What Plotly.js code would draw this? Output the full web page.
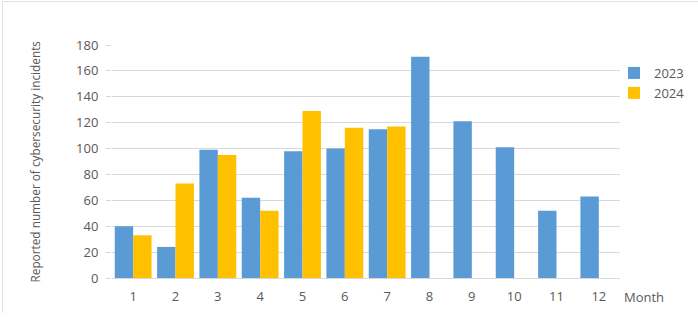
<!DOCTYPE html>
<html>
<head>
<meta charset="utf-8">
<script src="https://cdn.plot.ly/plotly-3.0.1.min.js"></script>
<style>
html,body{margin:0;padding:0;background:#fff;}
#frame{position:absolute;left:2px;top:1px;width:696px;height:311px;border-left:1px solid #e3e3e3;border-top:1px solid #e3e3e3;}
#chart{position:absolute;left:0;top:0;width:698px;height:327px;}
</style>
</head>
<body>
<div id="frame"></div>
<div id="chart"></div>
<script>
const months = ["1","2","3","4","5","6","7","8","9","10","11","12"];
const values2023 = [40, 24, 99, 62, 98, 100, 115, 171, 121, 101, 52, 63];
const values2024 = [33, 73, 95, 52, 129, 116, 117, null, null, null, null, null];
const seriesNames = ["2023", "2024"];
const yTicks = [0, 20, 40, 60, 80, 100, 120, 140, 160, 180];

const fontFam = "'Open Sans', 'Liberation Sans', sans-serif";
const gray = "#595959";

const traces = [
  {type: "bar", name: seriesNames[0], x: months, y: values2023, marker: {color: "#5B9BD5"}, hoverinfo: "none"},
  {type: "bar", name: seriesNames[1], x: months, y: values2024, marker: {color: "#FFC000"}, hoverinfo: "none"}
];

const layout = {
  width: 698, height: 327,
  paper_bgcolor: "rgba(0,0,0,0)", plot_bgcolor: "rgba(0,0,0,0)",
  margin: {l: 112, r: 78, t: 45, b: 49, pad: 0, autoexpand: false},
  barmode: "group", bargap: 0.13, bargroupgap: 0,
  font: {family: fontFam, size: 13, color: gray},
  showlegend: true,
  legend: {xref: "container", yref: "container", x: 614 / 698, y: 1 - 58 / 327, xanchor: "left", yanchor: "top",
           font: {size: 13, color: gray}, itemwidth: 30, tracegroupgap: 4},
  xaxis: {type: "category", range: [-0.5, 11.5], showgrid: false, showline: true, linecolor: "#d9d9d9", linewidth: 1,
          ticks: "", tickfont: {size: 13, color: gray}, ticklabelstandoff: 6, fixedrange: true, automargin: false},
  yaxis: {range: [0, 180], tickvals: yTicks, showgrid: true, gridcolor: "#d9d9d9", gridwidth: 1, zeroline: false,
          showline: false, ticks: "outside", ticklen: 5, tickcolor: "#d9d9d9", ticklabelstandoff: 5,
          tickfont: {size: 13, color: gray}, fixedrange: true, automargin: false},
  annotations: [
    {text: "Reported number of cybersecurity incidents", xref: "paper", yref: "paper",
     x: (34 - 112) / 508, y: 0.50, xanchor: "center", yanchor: "middle", textangle: -90,
     showarrow: false, font: {size: 11.8, color: gray}},
    {text: "Month", xref: "paper", yref: "paper", x: (622 - 112) / 508, y: -(297 - 278) / 233,
     xanchor: "left", yanchor: "middle", showarrow: false, font: {size: 13, color: gray}}
  ]
};

Plotly.newPlot("chart", traces, layout, {displayModeBar: false, staticPlot: true});
</script>
</body>
</html>
